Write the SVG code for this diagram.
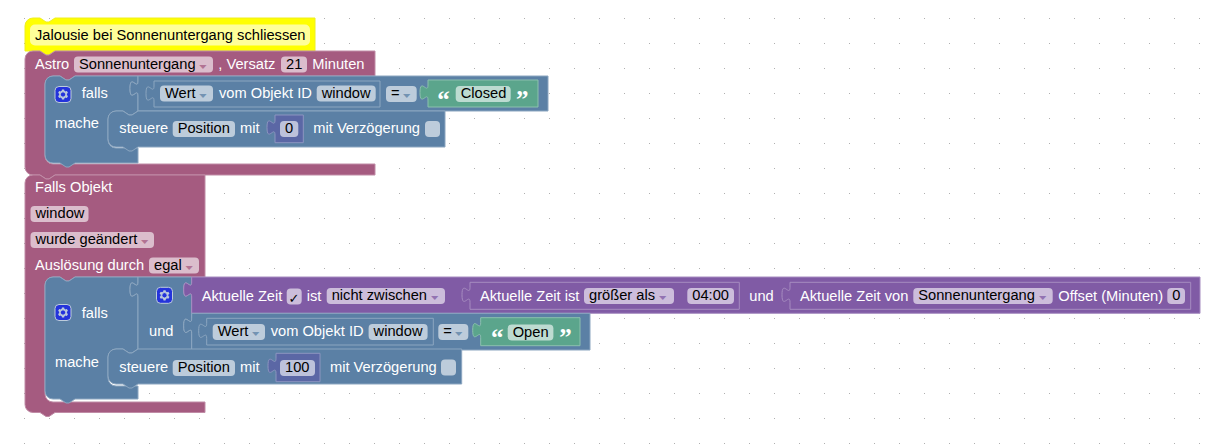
<svg xmlns="http://www.w3.org/2000/svg" xmlns:xlink="http://www.w3.org/1999/xlink" width="1213" height="445" viewBox="0 0 1213 445">
<defs>
<style>
.t{font-family:"Liberation Sans",Arial,sans-serif;font-size:14.67px;fill:#fff}
.ft{fill:#000}
.fld{fill:#fff;fill-opacity:0.6}
.arr{font-family:"DejaVu Sans",sans-serif;font-size:14.67px;fill-opacity:0.75}
.q{font-family:"Liberation Serif","Times New Roman",serif;font-weight:bold;font-size:25px;fill:#fff}
.chk{font-family:"DejaVu Sans",sans-serif;font-size:13px;fill:#000}
.mag{fill:#a55b80;stroke:#c08ca6;stroke-width:1}
.blu{fill:#5b80a5;stroke:#8ca6c0;stroke-width:1}
.pur{fill:#805ba5;stroke:#a68cc0;stroke-width:1}
.grn{fill:#5ba58c;stroke:#8cc0ae;stroke-width:1}
.ind{fill:#5b67a5;stroke:#8c95c0;stroke-width:1}
.yel{fill:#ffff00;stroke:#eeee22;stroke-width:1}
</style>
<pattern id="grid" x="24" y="18" width="25" height="25" patternUnits="userSpaceOnUse">
<rect x="0" y="0" width="1" height="1" fill="#b0b0b0"/>
</pattern>
<g id="gear" opacity="0.6">
<rect width="16" height="16" rx="4" ry="4" fill="#00f" stroke="#fff" stroke-width="1"/>
<path fill="#fff" d="m4.203,7.296 0,1.368 -0.92,0.677 -0.11,0.41 0.9,1.559 0.41,0.11 1.043,-0.457 1.187,0.683 0.127,1.134 0.3,0.3 1.8,0 0.3,-0.299 0.127,-1.138 1.185,-0.682 1.046,0.458 0.409,-0.11 0.9,-1.559 -0.11,-0.41 -0.92,-0.677 0,-1.366 0.92,-0.677 0.11,-0.41 -0.9,-1.559 -0.409,-0.109 -1.046,0.458 -1.185,-0.682 -0.127,-1.138 -0.3,-0.299 -1.8,0 -0.3,0.3 -0.126,1.135 -1.187,0.682 -1.043,-0.457 -0.41,0.11 -0.899,1.559 0.108,0.409z"/>
<circle cx="8" cy="8" r="2.7" fill="#00f" stroke="#fff" stroke-width="1"/>
</g>
</defs>
<rect width="1213" height="445" fill="#fff"/>
<rect width="1213" height="445" fill="url(#grid)"/>

<g id="connectors"/>

<g id="comment">
<path class="yel" d="M25,26 a8,8 0 0,1 8,-8 H40 l6,4 3,0 6,-4 H315 V51 H55 l-6,4 -3,0 -6,-4 H25 z"/>
<rect x="30" y="24.5" width="280" height="21" rx="5" ry="5" fill="#fff" fill-opacity="0.6"/>
<text class="t ft" x="35" y="39.5">Jalousie bei Sonnenuntergang schliessen</text>
</g>

<g id="astro">
<path class="mag" d="M25,59 a8,8 0 0,1 8,-8 H40 l6,4 3,0 6,-4 H375 V76 H75 l-6,4 -3,0 -6,-4 H53 a8,8 0 0,0 -8,8 V156 a8,8 0 0,0 8,8 H375 V175 H55 l-6,4 -3,0 -6,-4 H33 a8,8 0 0,1 -8,-8 z"/>
<text class="t" x="35" y="68.5">Astro</text>
<rect class="fld" x="74" y="56.5" width="139" height="16" rx="4"/>
<text class="t ft" x="79" y="68.5">Sonnenuntergang</text>
<text class="arr" transform="translate(199.3,68.5) scale(1,0.55)" fill="#a55b80">▾</text>
<text class="t" x="218.3" y="68.5">, Versatz</text>
<rect class="fld" x="281" y="56.5" width="26" height="16" rx="4"/>
<text class="t ft" x="286" y="68.5">21</text>
<text class="t" x="312.3" y="68.5">Minuten</text>
</g>

<g id="if1">
<path class="blu" d="M45,84 a8,8 0 0,1 8,-8 H60 l6,4 3,0 6,-4 H138 V81 c0,10 -8,-8 -8,7.5 s8,-2.5 8,7.5 V111 l-6,4 -3,0 -6,-4 H116 a8,8 0 0,0 -8,8 V140 a8,8 0 0,0 8,8 H138 V163 H75 l-6,4 -3,0 -6,-4 H53 a8,8 0 0,1 -8,-8 z"/>
<use xlink:href="#gear" href="#gear" x="55" y="86.5"/>
<text class="t" x="81.7" y="98.3">falls</text>
<text class="t" x="55" y="128">mache</text>
</g>

<g id="compare1">
<path class="blu" d="M138,76 H548 V111 H138 V96 c0,-10 -8,8 -8,-7.5 s8,2.5 8,-7.5 z"/>
<path class="blu" d="M154,81 H380 V107 H154 V101 c0,-10 -8,8 -8,-7.5 s8,2.5 8,-7.5 z"/>
<rect class="fld" x="160" y="85.5" width="53" height="16" rx="4"/>
<text class="t ft" x="165" y="97.5">Wert</text>
<text class="arr" transform="translate(199.3,97.5) scale(1,0.55)" fill="#5b80a5">▾</text>
<text class="t" x="219" y="97.5">vom Objekt ID</text>
<rect class="fld" x="316.7" y="85.5" width="59" height="16" rx="4"/>
<text class="t ft" x="321.7" y="97.5">window</text>
<rect class="fld" x="386" y="86" width="30.7" height="16" rx="4"/>
<text class="t ft" x="391" y="98">=</text>
<text class="arr" transform="translate(403,98) scale(1,0.55)" fill="#5b80a5">▾</text>
</g>

<g id="text-closed">
<path class="grn" d="M428,80 H538 V107 H428 V100 c0,-10 -8,8 -8,-7.5 s8,2.5 8,-7.5 z"/>
<text class="q" x="437.3" y="107.8">“</text>
<rect class="fld" x="455.7" y="86" width="55" height="16" rx="4"/>
<text class="t ft" x="460.7" y="98">Closed</text>
<text class="q" x="516" y="107.8">”</text>
</g>

<g id="steuere1">
<path class="blu" d="M108,119 a8,8 0 0,1 8,-8 H123 l6,4 3,0 6,-4 H445 V147 H138 l-6,4 -3,0 -6,-4 H116 a8,8 0 0,1 -8,-8 z"/>
<text class="t" x="119.3" y="133">steuere</text>
<rect class="fld" x="172.7" y="121" width="62.3" height="16" rx="4"/>
<text class="t ft" x="177.7" y="133">Position</text>
<text class="t" x="240" y="133">mit</text>
<path class="ind" d="M275,115 H303.3 V142.7 H275 V135 c0,-10 -8,8 -8,-7.5 s8,2.5 8,-7.5 z"/>
<rect class="fld" x="280" y="121" width="18.3" height="16" rx="4"/>
<text class="t ft" x="285" y="133">0</text>
<text class="t" x="313.3" y="133">mit Verzögerung</text>
<rect class="fld" x="425" y="121" width="15" height="16" rx="4"/>
</g>

<g id="falls-objekt">
<path class="mag" d="M25,183 a8,8 0 0,1 8,-8 H40 l6,4 3,0 6,-4 H205 V277 H75 l-6,4 -3,0 -6,-4 H53 a8,8 0 0,0 -8,8 V394 a8,8 0 0,0 8,8 H205 V412.5 H55 l-6,4 -3,0 -6,-4 H33 a8,8 0 0,1 -8,-8 z"/>
<text class="t" x="35" y="192">Falls Objekt</text>
<rect class="fld" x="30.5" y="206" width="58" height="16" rx="4"/>
<text class="t ft" x="35.5" y="218">window</text>
<rect class="fld" x="30.5" y="232" width="123.5" height="16" rx="4"/>
<text class="t ft" x="35.5" y="244">wurde geändert</text>
<text class="arr" transform="translate(141,244) scale(1,0.55)" fill="#a55b80">▾</text>
<text class="t" x="35" y="270">Auslösung durch</text>
<rect class="fld" x="149" y="257.5" width="50" height="16" rx="4"/>
<text class="t ft" x="154" y="269.5">egal</text>
<text class="arr" transform="translate(185.5,269.5) scale(1,0.55)" fill="#a55b80">▾</text>
</g>

<g id="if2">
<path class="blu" d="M45,285 a8,8 0 0,1 8,-8 H60 l6,4 3,0 6,-4 H138 V282 c0,10 -8,-8 -8,7.5 s8,-2.5 8,7.5 V349 l-6,4 -3,0 -6,-4 H116 a8,8 0 0,0 -8,8 V378 a8,8 0 0,0 8,8 H138 V399 H75 l-6,4 -3,0 -6,-4 H53 a8,8 0 0,1 -8,-8 z"/>
<use xlink:href="#gear" href="#gear" x="55" y="304.5"/>
<text class="t" x="81.7" y="318">falls</text>
<text class="t" x="55" y="366.5">mache</text>
</g>

<g id="und">
<path class="blu" d="M138,277 H191.7 V282 c0,10 -8,-8 -8,7.5 s8,-2.5 8,7.5 V318.3 c0,10 -8,-8 -8,7.5 s8,-2.5 8,7.5 V350 H138 V297 c0,-10 -8,8 -8,-7.5 s8,2.5 8,-7.5 z"/>
<use xlink:href="#gear" href="#gear" x="156.5" y="287.3"/>
<text class="t" x="149" y="336">und</text>
</g>

<g id="zeit-zwischen">
<path class="pur" d="M191.7,277 H1200 V313.3 H191.7 V297 c0,-10 -8,8 -8,-7.5 s8,2.5 8,-7.5 z"/>
<text class="t" x="201.7" y="300.5">Aktuelle Zeit</text>
<rect class="fld" x="286.7" y="288.5" width="15" height="16" rx="4"/>
<text class="chk" x="288.5" y="302.5">✓</text>
<text class="t" x="306.7" y="300.5">ist</text>
<rect class="fld" x="326.7" y="288" width="118.3" height="16" rx="4"/>
<text class="t ft" x="331.7" y="300">nicht zwischen</text>
<text class="arr" transform="translate(431,300) scale(1,0.55)" fill="#805ba5">▾</text>
<text class="t" x="749.3" y="300.5">und</text>
</g>

<g id="zeit-groesser">
<path class="pur" d="M470,282.3 H739.3 V309.3 H470 V302.3 c0,-10 -8,8 -8,-7.5 s8,2.5 8,-7.5 z"/>
<text class="t" x="480" y="300.5">Aktuelle Zeit ist</text>
<rect class="fld" x="584" y="288" width="90" height="16" rx="4"/>
<text class="t ft" x="589" y="300">größer als</text>
<text class="arr" transform="translate(659,300) scale(1,0.55)" fill="#805ba5">▾</text>
<rect class="fld" x="687.3" y="288" width="46.7" height="16" rx="4"/>
<text class="t ft" x="692.3" y="300">04:00</text>
</g>

<g id="zeit-astro">
<path class="pur" d="M790,282.3 H1190.7 V309.3 H790 V302.3 c0,-10 -8,8 -8,-7.5 s8,2.5 8,-7.5 z"/>
<text class="t" x="800" y="300.5">Aktuelle Zeit von</text>
<rect class="fld" x="913.3" y="288" width="139.4" height="16" rx="4"/>
<text class="t ft" x="918.3" y="300">Sonnenuntergang</text>
<text class="arr" transform="translate(1039,300) scale(1,0.55)" fill="#805ba5">▾</text>
<text class="t" x="1058.3" y="300.5">Offset (Minuten)</text>
<rect class="fld" x="1167.3" y="288" width="17.7" height="16" rx="4"/>
<text class="t ft" x="1172.3" y="300">0</text>
</g>

<g id="compare2">
<path class="blu" d="M191.7,313.3 H590 V350 H191.7 V333.3 c0,-10 -8,8 -8,-7.5 s8,2.5 8,-7.5 z"/>
<path class="blu" d="M206.7,318.3 H433.3 V345 H206.7 V338.3 c0,-10 -8,8 -8,-7.5 s8,2.5 8,-7.5 z"/>
<rect class="fld" x="212.7" y="324" width="52.3" height="16" rx="4"/>
<text class="t ft" x="217.7" y="336">Wert</text>
<text class="arr" transform="translate(252,336) scale(1,0.55)" fill="#5b80a5">▾</text>
<text class="t" x="270.7" y="336">vom Objekt ID</text>
<rect class="fld" x="368.6" y="324" width="59" height="16" rx="4"/>
<text class="t ft" x="373.6" y="336">window</text>
<rect class="fld" x="438.3" y="324" width="30" height="16" rx="4"/>
<text class="t ft" x="443.3" y="336">=</text>
<text class="arr" transform="translate(455,336) scale(1,0.55)" fill="#5b80a5">▾</text>
</g>

<g id="text-open">
<path class="grn" d="M480.7,317.7 H580 V345.7 H480.7 V337.7 c0,-10 -8,8 -8,-7.5 s8,2.5 8,-7.5 z"/>
<text class="q" x="491" y="346">“</text>
<rect class="fld" x="507.7" y="324.5" width="45.7" height="16" rx="4"/>
<text class="t ft" x="512.7" y="336.5">Open</text>
<text class="q" x="559.3" y="346">”</text>
</g>

<g id="steuere2">
<path class="blu" d="M108,357 a8,8 0 0,1 8,-8 H123 l6,4 3,0 6,-4 H461.7 V384 H138 l-6,4 -3,0 -6,-4 H116 a8,8 0 0,1 -8,-8 z"/>
<text class="t" x="119.3" y="372">steuere</text>
<rect class="fld" x="172.7" y="360" width="62.3" height="16" rx="4"/>
<text class="t ft" x="177.7" y="372">Position</text>
<text class="t" x="240" y="372">mit</text>
<path class="ind" d="M276,353.3 H320 V381.7 H276 V373.3 c0,-10 -8,8 -8,-7.5 s8,2.5 8,-7.5 z"/>
<rect class="fld" x="280" y="360" width="35" height="16" rx="4"/>
<text class="t ft" x="285" y="372">100</text>
<text class="t" x="330" y="372">mit Verzögerung</text>
<rect class="fld" x="441" y="359.5" width="15" height="16" rx="4"/>
</g>
</svg>
